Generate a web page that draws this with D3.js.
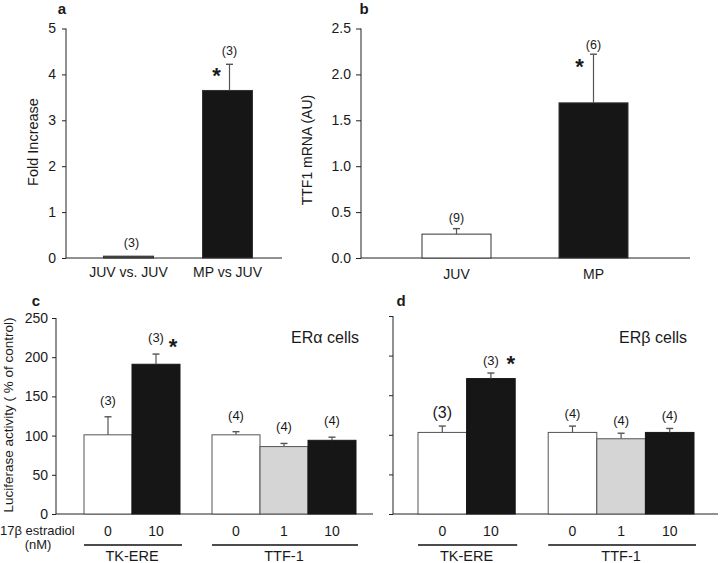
<!DOCTYPE html>
<html><head><meta charset="utf-8">
<script src="https://cdn.jsdelivr.net/npm/d3@7"></script>
<style>body{margin:0;background:#fff}svg{display:block}text{font-family:"Liberation Sans",Arial,sans-serif;fill:#1a1a1a}</style>
</head><body><svg id="c" width="720" height="563"></svg>
<script>
// ---- data ----
const aCats = ["JUV vs. JUV", "MP vs JUV"];
const aVals = [0.04, 3.65];
const aErr  = [0, 0.57];
const aN    = ["(3)", "(3)"];
const aTicks = [0,1,2,3,4,5];

const bCats = ["JUV", "MP"];
const bVals = [0.26, 1.69];
const bErr  = [0.06, 0.53];
const bN    = ["(9)", "(6)"];
const bTicks = [0,0.5,1,1.5,2,2.5];

const doses  = ["0","10","0","1","10"];
const groups = ["TK-ERE","TK-ERE","TTF-1","TTF-1","TTF-1"];
const fills  = ["white","black","white","gray","black"];
const cVals = [101, 191, 101, 86, 94];
const cErr  = [23, 13, 4, 4, 4];
const cN    = ["(3)","(3)","(4)","(4)","(4)"];
const dVals = [103, 171, 103, 95, 103];
const dErr  = [8, 7, 8, 7, 5];
const dN    = ["(3)","(3)","(4)","(4)","(4)"];
const cdTicks = [0,50,100,150,200,250];
const groupNames = ["TK-ERE","TTF-1"];

const svg = d3.select("#c");
const FILL = {white:"#ffffff", black:"#161616", gray:"#d5d5d5"};
const ERR = "#555";

function errBar(g, cx, y0, y1, cap){
  g.append("line").attr("x1",cx).attr("x2",cx).attr("y1",y0).attr("y2",y1).attr("stroke",ERR).attr("stroke-width",1.2);
  g.append("line").attr("x1",cx-cap).attr("x2",cx+cap).attr("y1",y1).attr("y2",y1).attr("stroke",ERR).attr("stroke-width",1.4);
}
function label(g,x,y,t,size,opts={}){
  const e=g.append("text").attr("x",x).attr("y",y).attr("font-size",size).attr("text-anchor",opts.anchor||"middle").text(t);
  if(opts.bold) e.attr("font-weight","bold");
  if(opts.rot) e.attr("transform",`rotate(-90,${x},${y})`);
  return e;
}

// ---- panel a ----
{
  const g = svg.append("g");
  const y = d3.scaleLinear().domain([0,5]).range([258,28.5]);
  const x = d3.scalePoint().domain(aCats).range([128.5,227.5]);
  const bw = 50;
  const ax = d3.axisLeft(y).tickValues(aTicks).tickSize(4).tickPadding(6).tickFormat(d3.format("d"));
  const ag = g.append("g").attr("transform","translate(66,0)").call(ax);
  ag.select(".domain").attr("d","M0,28.5V258").attr("stroke","#222");
  ag.selectAll(".tick line").attr("stroke","#222");
  ag.selectAll(".tick text").attr("font-size",14).attr("fill","#1a1a1a").style("font-family","Liberation Sans, Arial");
  g.append("line").attr("x1",66).attr("x2",282).attr("y1",258).attr("y2",258).attr("stroke","#222");
  aCats.forEach((c,i)=>{
    const top=y(aVals[i]);
    g.append("rect").attr("x",x(c)-bw/2).attr("y",top).attr("width",bw).attr("height",258-top)
     .attr("fill",i===0?"#444":"#161616").attr("stroke","#333").attr("stroke-width",1);
    const et=y(aVals[i]+aErr[i]);
    if(aErr[i]>0) errBar(g,x(c)+2,top,et,3.5);
    label(g,x(c)+(i===0?3:2),et-9,aN[i],12.5);
    label(g,x(c),277,c,14);
  });
  label(g,x(aCats[1])-11,y(aVals[1]+aErr[1])+19,"*",22,{bold:true});
  label(g,38,142,"Fold Increase",14.5,{rot:true});
  label(g,62,14,"a",15,{bold:true});
}

// ---- panel b ----
{
  const g = svg.append("g");
  const y = d3.scaleLinear().domain([0,2.5]).range([258,28.5]);
  const x = d3.scalePoint().domain(bCats).range([456.5,593.5]);
  const bw = 69;
  const ax = d3.axisLeft(y).tickValues(bTicks).tickSize(5).tickPadding(5).tickFormat(d3.format(".1f"));
  const ag = g.append("g").attr("transform","translate(361,0)").call(ax);
  ag.select(".domain").attr("d","M0,28.5V258").attr("stroke","#222");
  ag.selectAll(".tick line").attr("stroke","#222");
  ag.selectAll(".tick text").attr("font-size",14).attr("fill","#1a1a1a").style("font-family","Liberation Sans, Arial");
  g.append("line").attr("x1",361).attr("x2",690).attr("y1",258).attr("y2",258).attr("stroke","#222");
  bCats.forEach((c,i)=>{
    const top=y(bVals[i]);
    g.append("rect").attr("x",x(c)-bw/2).attr("y",top).attr("width",bw).attr("height",258-top)
     .attr("fill",i===0?"#fff":"#161616").attr("stroke","#333").attr("stroke-width",1);
    const et=y(bVals[i]+bErr[i]);
    errBar(g,x(c),top,et,3.5);
    label(g,x(c),et-(i===0?7:5),bN[i],12.5);
    label(g,x(c),279,c,14);
  });
  label(g,x(bCats[1])-14,y(bVals[1]+bErr[1])+20,"*",22,{bold:true});
  label(g,312,150,"TTF1 mRNA (AU)",14,{rot:true});
  label(g,364,14,"b",15,{bold:true});
}

// ---- panels c & d ----
function panelCD(opt){
  const g = svg.append("g");
  const y = d3.scaleLinear().domain([0,250]).range([514,opt.yTop]);
  const gi = groups.map(gr=>groupNames.indexOf(gr));
  const xs = d3.scaleLinear().domain([0,1]).range([opt.x0, opt.x0+opt.bw]);
  const left = i => xs(i) + gi[i]*opt.gap;
  const ax = d3.axisLeft(y).tickValues(cdTicks).tickSize(4).tickPadding(4).tickFormat(opt.labels?d3.format("d"):"");
  const ag = g.append("g").attr("transform",`translate(${opt.axisX},0)`).call(ax);
  ag.select(".domain").attr("d",`M0,${opt.yTop}V514`).attr("stroke","#222");
  ag.selectAll(".tick line").attr("stroke","#222");
  ag.selectAll(".tick text").attr("font-size",14).attr("fill","#1a1a1a").style("font-family","Liberation Sans, Arial");
  g.append("line").attr("x1",opt.axisX).attr("x2",opt.xEnd).attr("y1",514).attr("y2",514).attr("stroke","#222");
  opt.vals.forEach((v,i)=>{
    const top=y(v), lx=left(i), cx=lx+opt.bw/2;
    g.append("rect").attr("x",lx).attr("y",top).attr("width",opt.bw).attr("height",514-top)
     .attr("fill",FILL[fills[i]]).attr("stroke",fills[i]==="black"?"#161616":"#555").attr("stroke-width",1);
    const et=y(v+opt.err[i]);
    errBar(g,cx,top,et,3.5);
    const big = opt.bigFirst && i===0;
    label(g,cx,et-opt.nOff,opt.n[i],big?16:13);
    label(g,cx,536,doses[i],14);
    if(i===1) label(g,cx+opt.starDx,et+opt.starDy,"*",22,{bold:true});
  });
  groupNames.forEach((gn,k)=>{
    const idx = groups.map((gr,i)=>gr===gn?i:-1).filter(i=>i>=0);
    const l = left(idx[0]), r = left(idx[idx.length-1])+opt.bw;
    g.append("line").attr("x1",l).attr("x2",r+2).attr("y1",545).attr("y2",545).attr("stroke","#111").attr("stroke-width",1.6);
    label(g,(l+r)/2,561,gn,14.5);
  });
  label(g,opt.cellX,343,opt.cellLabel,16,{anchor:"end"});
  label(g,opt.panelX,306,opt.panel,15,{bold:true});
}
panelCD({yTop:318, x0:84, bw:48, gap:32, axisX:56, xEnd:373, vals:cVals, err:cErr, n:cN,
  labels:true, nOff:12, starDx:17, starDy:0, bigFirst:false, cellX:359, cellLabel:"ERα cells", panel:"c", panelX:36});
panelCD({yTop:316, x0:418, bw:48.6, gap:33, axisX:393, xEnd:718, vals:dVals, err:dErr, n:dN,
  labels:false, nOff:8, starDx:20, starDy:-2, bigFirst:true, cellX:687, cellLabel:"ERβ cells", panel:"d", panelX:401});

label(svg,0,535,"17β estradiol",13,{anchor:"start"});
label(svg,38,549,"(nM)",13);
label(svg,13,415,"Luciferase activity ( % of control)",13.5,{rot:true});
</script></body></html>
